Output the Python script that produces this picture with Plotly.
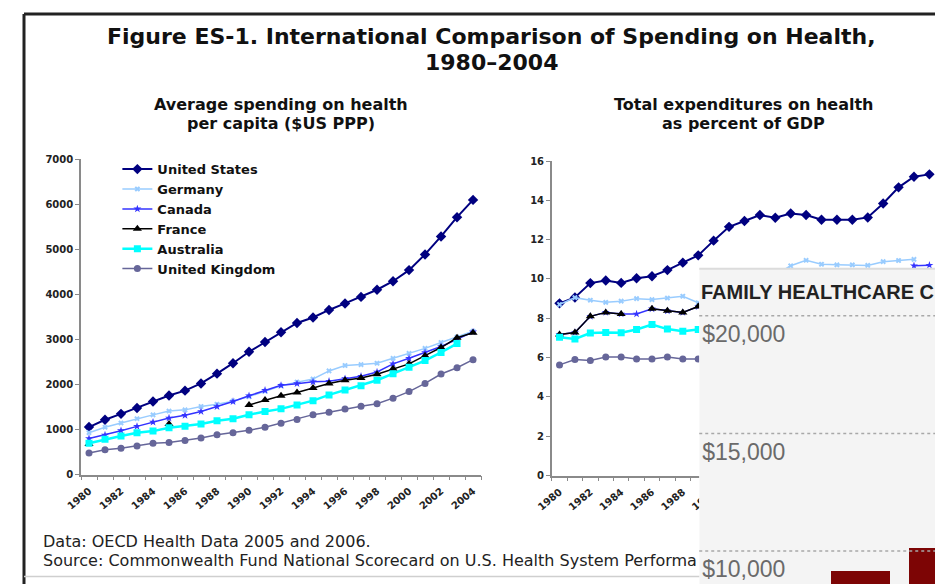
import plotly.graph_objects as go

# ---------------- data ----------------
years = list(range(1980, 2005))
tick_years = [y for y in years if y % 2 == 0]

countries = ["United States", "Germany", "Canada", "France", "Australia", "United Kingdom"]

# Average spending on health per capita ($US PPP)
us_pc = [1055, 1217, 1348, 1478, 1623, 1754, 1862, 2022, 2239, 2471, 2724, 2942, 3159,
         3363, 3485, 3652, 3797, 3942, 4101, 4290, 4536, 4884, 5283, 5710, 6094]
de_pc = [930, 1050, 1145, 1240, 1325, 1410, 1436, 1510, 1560, 1630, 1730, 1850, 1970,
         2050, 2120, 2300, 2420, 2440, 2470, 2580, 2690, 2800, 2930, 3050, 3180]
ca_pc = [800, 880, 975, 1070, 1165, 1255, 1315, 1400, 1510, 1620, 1750, 1870, 1980,
         2017, 2058, 2072, 2130, 2181, 2275, 2457, 2580, 2710, 2841, 3000, 3165]
fr_pc = [680, None, None, None, None, 1124, None, None, None, None, 1545, 1654, 1749,
         1820, 1920, 2022, 2094, 2145, 2225, 2348, 2457, 2638, 2819, 3036, 3145]
au_pc = [696, 782, 856, 928, 965, 1037, 1074, 1124, 1196, 1240, 1327, 1401, 1458,
         1545, 1640, 1768, 1877, 1971, 2094, 2239, 2384, 2529, 2710, 2906, None]
uk_pc = [478, 550, 587, 637, 696, 710, 754, 811, 884, 928, 985, 1050, 1140,
         1225, 1330, 1384, 1457, 1515, 1572, 1696, 1841, 2022, 2232, 2370, 2550]

# Total expenditures on health as percent of GDP (values hidden behind the overlay are None)
us_gdp = [8.76, 9.06, 9.79, 9.92, 9.80, 10.04, 10.14, 10.45, 10.83, 11.2, 11.95, 12.65, 12.95,
          13.25, 13.11, 13.33, 13.25, 13.01, 13.01, 13.01, 13.13, 13.84, 14.66, 15.2, 15.32]
de_gdp = [8.7, 9.05, 8.92, 8.81, 8.87, 9.0, 8.95, 9.03, 9.12, 8.79, None, None, None,
          None, 10.2, 10.67, 10.95, 10.75, 10.72, 10.72, 10.69, 10.88, 10.94, 11.0, None]
ca_gdp = [7.18, 7.28, 8.1, 8.3, 8.22, 8.22, 8.48, 8.38, 8.3, 8.6, None, None, None,
          None, None, None, None, None, None, None, None, None, None, 10.67, 10.7]
fr_gdp = [7.18, 7.28, 8.1, 8.3, 8.22, None, 8.48, 8.38, 8.3, 8.6, None, None, None,
          None, None, None, None, None, None, None, None, None, None, None, None]
au_gdp = [7.03, 6.95, 7.25, 7.28, 7.26, 7.43, 7.68, 7.45, 7.34, 7.43, None, None, None,
          None, None, None, None, None, None, None, None, None, None, None, None]
uk_gdp = [5.63, 5.9, 5.85, 6.03, 6.03, 5.93, 5.93, 6.03, 5.93, 5.93, None, None, None,
          None, None, None, None, None, None, None, None, None, None, None, None]

# Overlapping "family healthcare costs" panel
family_slots = [0, 1]
family_costs = [9180, 10125]
family_ticks = [10000, 15000, 20000]
family_ticktext = ["$10,000", "$15,000", "$20,000"]

per_capita = [us_pc, de_pc, ca_pc, fr_pc, au_pc, uk_pc]
pct_gdp = [us_gdp, de_gdp, ca_gdp, fr_gdp, au_gdp, uk_gdp]

# ---------------- styles ----------------
styles = [
    dict(color="#000080", symbol="diamond", size=8, width=2),
    dict(color="#99ccff", symbol="x", size=5, width=1.5),
    dict(color="#3333ff", symbol="star", size=6, width=1.5),
    dict(color="#000000", symbol="triangle-up", size=8, width=1.5),
    dict(color="#00ffff", symbol="square", size=7, width=2.5),
    dict(color="#666699", symbol="circle", size=7, width=1.5),
]

# the page body has an 8px default margin: lay out in window pixels, convert to figure paper.
# The figure runs a little past the bottom of the window so the overlay panel is cut like the source.
OFF = 8
W, H = 943 - OFF, 600
def px(x):
    return min(max((x - OFF) / W, 0), 1)
def py(y):
    return min(max(1 - (y - OFF) / H, 0), 1)

X3_RANGE = [-2.05, 1.05]
Y3_RANGE = [7833, 22000]

fig = go.Figure()

for name, vals, st in zip(countries, per_capita, styles):
    fig.add_trace(go.Scatter(
        x=years, y=vals, name=name, mode="lines+markers",
        line=dict(color=st["color"], width=st["width"]),
        marker=dict(symbol=st["symbol"], size=st["size"], color=st["color"]),
        xaxis="x", yaxis="y", connectgaps=False))

for name, vals, st in zip(countries, pct_gdp, styles):
    fig.add_trace(go.Scatter(
        x=years, y=vals, name=name, mode="lines+markers", showlegend=False,
        line=dict(color=st["color"], width=st["width"]),
        marker=dict(symbol=st["symbol"], size=st["size"], color=st["color"]),
        xaxis="x2", yaxis="y2", connectgaps=False))

fig.add_trace(go.Bar(
    x=family_slots, y=family_costs, base=0, width=0.75, showlegend=False,
    marker=dict(color="#7d0505", line=dict(width=0)),
    xaxis="x3", yaxis="y3"))

tickfont = dict(family="DejaVu Sans", size=10, color="#222", weight="bold")
axcol = "#8a8a8a"

def xaxis_def(domain, anchor):
    return dict(domain=domain, anchor=anchor, range=[1979.5, 2004.5],
                tickvals=tick_years, ticktext=[str(y) for y in tick_years],
                tickangle=-40, ticks="", showline=True, linecolor=axcol, linewidth=1.5,
                showgrid=False, zeroline=False, tickfont=tickfont, ticklabelstandoff=5,
                minor=dict(tick0=1979.5, dtick=1, ticks="outside", ticklen=4,
                           tickcolor=axcol, tickwidth=1, showgrid=False))

def yaxis_def(domain, anchor, rng, dtick):
    return dict(domain=domain, anchor=anchor, range=rng, dtick=dtick,
                ticks="outside", ticklen=4, tickcolor=axcol, showline=True,
                linecolor=axcol, linewidth=1.5, showgrid=False, zeroline=False,
                tickfont=tickfont)

fig.update_layout(
    width=W, height=H, margin=dict(l=0, r=0, t=0, b=0),
    paper_bgcolor="white", plot_bgcolor="white",
    xaxis=xaxis_def([px(66), px(473)], "y"),
    yaxis=yaxis_def([py(478), py(156)], "x", [0, 7000], 1000),
    xaxis2=xaxis_def([px(545), px(937)], "y2"),
    yaxis2=yaxis_def([py(479), py(158)], "x2", [0, 16], 2),
    xaxis3=dict(domain=[px(695), 1], anchor="y3", range=X3_RANGE, visible=False),
    yaxis3=dict(domain=[0, py(268)], anchor="x3", range=Y3_RANGE,
                tickvals=family_ticks, ticktext=family_ticktext,
                ticklabelposition="inside bottom", ticklabelshift=2, ticks="",
                showline=False, showgrid=False, zeroline=False,
                tickfont=dict(family="Liberation Sans", size=23, color="#6a6a6a")),
    showlegend=True,
    legend=dict(x=px(103), y=py(151), xanchor="left", yanchor="top",
                bgcolor="rgba(0,0,0,0)", tracegroupgap=0,
                font=dict(family="DejaVu Sans", size=13, color="#111", weight="bold")),
    bargap=0,
)

shapes = [
    # overlay panel background (covers the right chart beneath it)
    dict(type="rect", xref="x3", yref="y3", x0=X3_RANGE[0], x1=X3_RANGE[1],
         y0=Y3_RANGE[0], y1=Y3_RANGE[1],
         fillcolor="#f4f4f4", line=dict(width=0), layer="between"),
    # panel top edge
    dict(type="line", xref="paper", yref="paper", x0=px(695), x1=1, y0=py(268), y1=py(268),
         line=dict(color="#dcdcdc", width=2), layer="above"),
    # slide frame
    dict(type="line", xref="paper", yref="paper", x0=0, x1=1, y0=1, y1=1,
         line=dict(color="#222", width=3), layer="above"),
    dict(type="line", xref="paper", yref="paper", x0=0, x1=0, y0=0, y1=1,
         line=dict(color="#222", width=3), layer="above"),
    dict(type="line", xref="paper", yref="paper", x0=0, x1=px(695), y0=py(582), y1=py(582),
         line=dict(color="#cfcfcf", width=1.5), layer="above"),
]
for v in family_ticks:
    shapes.append(dict(type="line", xref="paper", yref="y3", x0=px(695), x1=1, y0=v, y1=v,
                       line=dict(color="#a8a8a8", width=1.5, dash="dot"), layer="above"))
fig.update_layout(shapes=shapes)

bold = dict(family="DejaVu Sans", color="#111", weight="bold")
annos = [
    dict(text="Figure ES-1. International Comparison of Spending on Health,",
         x=px(484), y=py(31), font=dict(size=22, **bold)),
    dict(text="1980–2004", x=px(484), y=py(57.5), font=dict(size=22, **bold)),
    dict(text="Average spending on health", x=px(269), y=py(100), font=dict(size=16, **bold)),
    dict(text="per capita ($US PPP)", x=px(269), y=py(120), font=dict(size=16, **bold)),
    dict(text="Total expenditures on health", x=px(740), y=py(100), font=dict(size=16, **bold)),
    dict(text="as percent of GDP", x=px(740), y=py(120), font=dict(size=16, **bold)),
]
for a in annos:
    a.update(xref="paper", yref="paper", xanchor="center", yanchor="middle", showarrow=False)

plain = dict(family="DejaVu Sans", size=16, color="#222")
annos += [
    dict(text="Data: OECD Health Data 2005 and 2006.", x=px(25), y=py(546),
         xref="paper", yref="paper", xanchor="left", yanchor="middle", showarrow=False, font=plain),
    dict(text="Source: Commonwealth Fund National Scorecard on U.S. Health System Performa",
         x=px(25), y=py(566), xref="paper", yref="paper", xanchor="left", yanchor="middle",
         showarrow=False, font=plain),
    dict(text="FAMILY HEALTHCARE C", x=px(695), y=py(292), xref="paper", yref="paper",
         xanchor="left", yanchor="middle", showarrow=False,
         font=dict(family="Liberation Sans", size=20, color="#222", weight="bold")),
]
fig.update_layout(annotations=annos)

fig.write_html("out.html")
